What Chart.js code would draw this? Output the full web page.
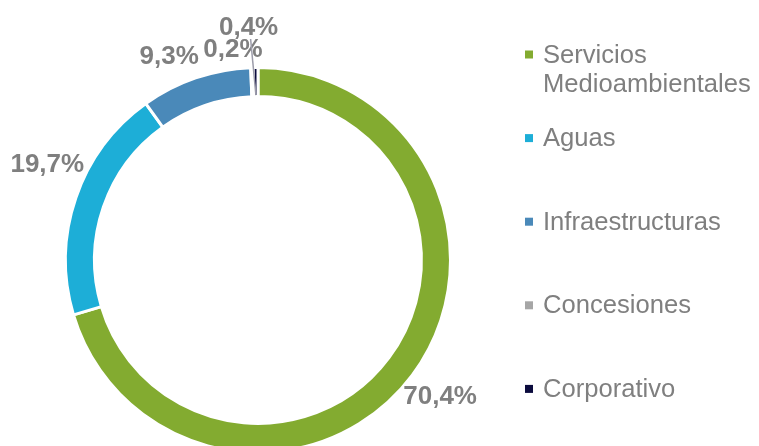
<!DOCTYPE html>
<html lang="es">
<head>
  <meta charset="UTF-8" />
  <title>Cifra de negocio por actividad</title>
  <script src="https://cdn.jsdelivr.net/npm/chart.js"></script>
  <style>
    html, body { margin: 0; padding: 0; overflow: hidden; background: #fff; }
    #grafico { position: absolute; left: 0; top: 0; }
  </style>
</head>
<body>
  <canvas id="grafico" width="759" height="520"></canvas>

  <script>
    // categorias y porcentajes
    const categorias = [["Servicios", "Medioambientales"], "Aguas", "Infraestructuras", "Concesiones", "Corporativo"];
    const porcentajes = [70.4, 19.7, 9.3, 0.2, 0.4];
    const colores = ["#83AB30", "#1DAED7", "#4A89B9", "#A6A6A6", "#0B0B3D"];

    const GRIS = "#7F7F7F";
    const FUENTE = "'Liberation Sans', Arial, sans-serif";

    // desplazamiento de cada etiqueta respecto al borde exterior del sector
    const desplazEtiquetas = [[29, 22], [-30, -34], [-27, -23], [-19, -20], [-7, -42]];

    const etiquetasPlugin = {
      id: "etiquetas",
      afterDatasetsDraw(chart) {
        const ctx = chart.ctx;
        const meta = chart.getDatasetMeta(0);
        ctx.save();
        ctx.font = "bold 26px " + FUENTE;
        ctx.fillStyle = GRIS;
        ctx.textAlign = "center";
        ctx.textBaseline = "middle";
        meta.data.forEach((arc, i) => {
          const p = arc.getProps(["x", "y", "startAngle", "endAngle", "outerRadius", "innerRadius"], true);
          const mid = (p.startAngle + p.endAngle) / 2;
          const r = p.outerRadius - 1.5;
          const ex = p.x + Math.cos(mid) * r;
          const ey = p.y + Math.sin(mid) * r;
          const lx = ex + desplazEtiquetas[i][0];
          const ly = ey + desplazEtiquetas[i][1];
          const texto = porcentajes[i].toFixed(1).replace(".", ",") + "%";
          ctx.fillText(texto, lx, ly + 1);

          // linea guia para el sector mas pequeño
          if (i === 4) {
            const ix = p.x + Math.cos(mid) * (p.innerRadius + 1.5);
            const iy = p.y + Math.sin(mid) * (p.innerRadius + 1.5);
            ctx.strokeStyle = "#9C9CAA";
            ctx.lineWidth = 1.5;
            ctx.beginPath();
            ctx.moveTo(lx + 2, ly + 12);
            ctx.lineTo(ix, iy);
            ctx.stroke();
          }
        });
        ctx.restore();
      }
    };

    // leyenda a la derecha
    const leyendaPlugin = {
      id: "leyenda",
      afterDraw(chart) {
        const ctx = chart.ctx;
        const x0 = 525;
        const y0 = 54.5;
        const paso = 83.6;
        ctx.save();
        ctx.font = "25.6px " + FUENTE;
        ctx.textAlign = "left";
        ctx.textBaseline = "alphabetic";
        chart.data.labels.forEach((lab, i) => {
          const cy = y0 + paso * i;
          ctx.fillStyle = colores[i];
          ctx.fillRect(x0, cy - 4, 8, 8);
          ctx.fillStyle = GRIS;
          const lineas = Array.isArray(lab) ? lab : [lab];
          lineas.forEach((t, k) => ctx.fillText(t, x0 + 18, cy + 8 + k * 29));
        });
        ctx.restore();
      }
    };

    new Chart(document.getElementById("grafico"), {
      type: "doughnut",
      data: {
        labels: categorias,
        datasets: [{
          data: porcentajes,
          backgroundColor: colores,
          borderColor: "#FFFFFF",
          borderWidth: 3
        }]
      },
      options: {
        responsive: false,
        animation: false,
        radius: 192.5,
        cutout: "84.9%",
        layout: { padding: { left: 0, top: 0, right: 243, bottom: 0 } },
        plugins: {
          legend: { display: false },
          tooltip: { enabled: false }
        }
      },
      plugins: [etiquetasPlugin, leyendaPlugin]
    });
  </script>
</body>
</html>
